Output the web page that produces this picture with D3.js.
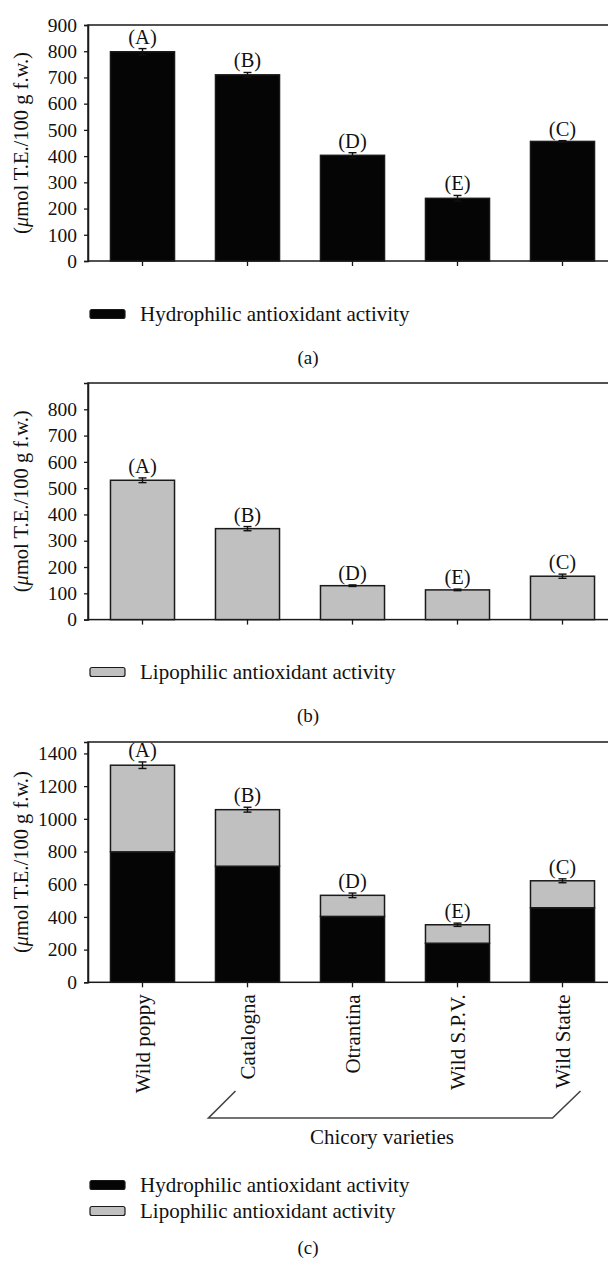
<!DOCTYPE html>
<html>
<head>
<meta charset="utf-8">
<script src="https://cdn.jsdelivr.net/npm/d3@7"></script>
<style>
  html, body { margin: 0; padding: 0; background: #fff; }
  svg { display: block; }
  text { font-family: "Liberation Serif", "Times New Roman", serif; fill: #111; }
</style>
</head>
<body>
<script>
// ---- data ----
const categories = ["Wild poppy", "Catalogna", "Otrantina", "Wild S.P.V.", "Wild Statte"];
const groupLetters = ["(A)", "(B)", "(D)", "(E)", "(C)"];
const hydrophilic = [798, 710, 403, 239, 456];
const hydrophilicErr = [12, 9, 10, 11, 3];
const lipophilic = [530, 346, 129, 113, 165];
const lipophilicErr = [9, 8, 3, 3, 8];
const totalErr = [20, 15, 14, 10, 12];
const ticksA = [0, 100, 200, 300, 400, 500, 600, 700, 800, 900];
const ticksB = [0, 100, 200, 300, 400, 500, 600, 700, 800];
const ticksC = [0, 200, 400, 600, 800, 1000, 1200, 1400];
const yTitleParts = ["(", "\u03BC", "mol T.E./100 g f.w.)"];
const legendHydro = "Hydrophilic antioxidant activity";
const legendLipo = "Lipophilic antioxidant activity";
const groupTitle = "Chicory varieties";

const W = 608, H = 1262;
const svg = d3.select("body").append("svg").attr("width", W).attr("height", H);

const BLACK = "#050505", GRAY = "#c0c0c0", STROKE = "#1a1a1a";
const x = d3.scaleBand().domain(categories).range([90, 615]).paddingInner(0.39).paddingOuter(0.195);
const left = 88, right = 612;

function panel(top, bottom, maxV, ticks, series, errs, showXLabels) {
  const y = d3.scaleLinear().domain([0, maxV]).range([bottom, top]);
  const g = svg.append("g");
  g.append("rect").attr("x", left).attr("y", top).attr("width", right - left).attr("height", bottom - top)
    .attr("fill", "none").attr("stroke", STROKE).attr("stroke-width", 1.5);
  const stackData = categories.map((c, i) => {
    const o = { cat: c };
    series.forEach(s => o[s.key] = s.values[i]);
    return o;
  });
  const stack = d3.stack().keys(series.map(s => s.key))(stackData);
  stack.forEach((layer, li) => {
    g.append("g").selectAll("rect").data(layer).join("rect")
      .attr("x", d => x(d.data.cat))
      .attr("width", x.bandwidth())
      .attr("y", d => y(d[1]))
      .attr("height", d => y(d[0]) - y(d[1]))
      .attr("fill", series[li].color)
      .attr("stroke", STROKE).attr("stroke-width", 1.5);
  });
  const totals = stackData.map(d => series.reduce((a, s) => a + d[s.key], 0));
  const eg = g.append("g").attr("stroke", "#111").attr("stroke-width", 1.4);
  categories.forEach((c, i) => {
    const cx = x(c) + x.bandwidth() / 2;
    const t = y(totals[i] + errs[i]), b = y(totals[i] - errs[i]);
    eg.append("line").attr("x1", cx).attr("x2", cx).attr("y1", t).attr("y2", b);
    eg.append("line").attr("x1", cx - 4).attr("x2", cx + 4).attr("y1", t).attr("y2", t);
    eg.append("line").attr("x1", cx - 4).attr("x2", cx + 4).attr("y1", b).attr("y2", b);
    g.append("text").attr("x", cx).attr("y", t - 5).attr("text-anchor", "middle")
      .attr("font-size", 20.5).text(groupLetters[i]);
  });
  const ya = g.append("g").attr("transform", `translate(${left},0)`)
    .call(d3.axisLeft(y).tickValues(ticks).tickSize(4).tickPadding(7).tickFormat(d3.format("d")));
  ya.select(".domain").attr("stroke", STROKE).attr("stroke-width", 1.5);
  ya.selectAll(".tick line").attr("stroke", STROKE).attr("stroke-width", 1.3);
  ya.selectAll("text").attr("font-size", 19.5).attr("font-family", "Liberation Serif").attr("fill", "#111");
  const xa = g.append("g").attr("transform", `translate(0,${bottom})`)
    .call(d3.axisBottom(x).tickSize(5).tickSizeOuter(0).tickFormat(showXLabels ? (d => d) : ""));
  xa.select(".domain").remove();
  xa.selectAll(".tick line").attr("stroke", STROKE).attr("stroke-width", 1.3);
  if (showXLabels) {
    xa.selectAll("text").attr("font-size", 21).attr("font-family", "Liberation Serif").attr("fill", "#111")
      .attr("text-anchor", "end").attr("transform", "rotate(-90)")
      .attr("x", -12).attr("y", 0).attr("dy", "0.35em");
  }
  const tt = g.append("text").attr("transform", `translate(28,${(top + bottom) / 2}) rotate(-90)`)
    .attr("text-anchor", "middle").attr("font-size", 20.5);
  tt.append("tspan").text(yTitleParts[0]);
  tt.append("tspan").attr("font-style", "italic").text(yTitleParts[1]);
  tt.append("tspan").text(yTitleParts[2]);
  return y;
}

function legendRow(yc, color, label) {
  svg.append("rect").attr("x", 90).attr("y", yc - 4.5).attr("width", 35).attr("height", 9).attr("rx", 2)
    .attr("fill", color).attr("stroke", STROKE).attr("stroke-width", 1.2);
  svg.append("text").attr("x", 140).attr("y", yc).attr("dy", "0.32em").attr("font-size", 21).text(label);
}
function caption(yc, t) {
  svg.append("text").attr("x", 308).attr("y", yc).attr("dy", "0.32em").attr("text-anchor", "middle")
    .attr("font-size", 19).text(t);
}

// Panel (a)
panel(25, 261, 900, ticksA, [{ key: "h", values: hydrophilic, color: BLACK }], hydrophilicErr, false);
legendRow(314, BLACK, legendHydro);
caption(358, "(a)");

// Panel (b)
panel(383, 619.6, 900, ticksB, [{ key: "l", values: lipophilic, color: GRAY }], lipophilicErr, false);
legendRow(672, GRAY, legendLipo);
caption(716, "(b)");

// Panel (c)
panel(742, 982.3, 1470, ticksC, [
  { key: "h", values: hydrophilic, color: BLACK },
  { key: "l", values: lipophilic, color: GRAY }
], totalErr, true);

const bx0 = x(categories[1]) + x.bandwidth() / 2, bx1 = x(categories[4]) + x.bandwidth() / 2;
svg.append("path")
  .attr("d", `M${bx0 - 12},1091 L${bx0 - 39},1118 L${bx1 - 10},1118 L${bx1 + 18},1091`)
  .attr("fill", "none").attr("stroke", "#444").attr("stroke-width", 1.6);
svg.append("text").attr("x", (bx0 + bx1) / 2 - 23).attr("y", 1137).attr("dy", "0.32em")
  .attr("text-anchor", "middle").attr("font-size", 21).text(groupTitle);

legendRow(1185, BLACK, legendHydro);
legendRow(1211, GRAY, legendLipo);
caption(1248, "(c)");
</script>
</body>
</html>
